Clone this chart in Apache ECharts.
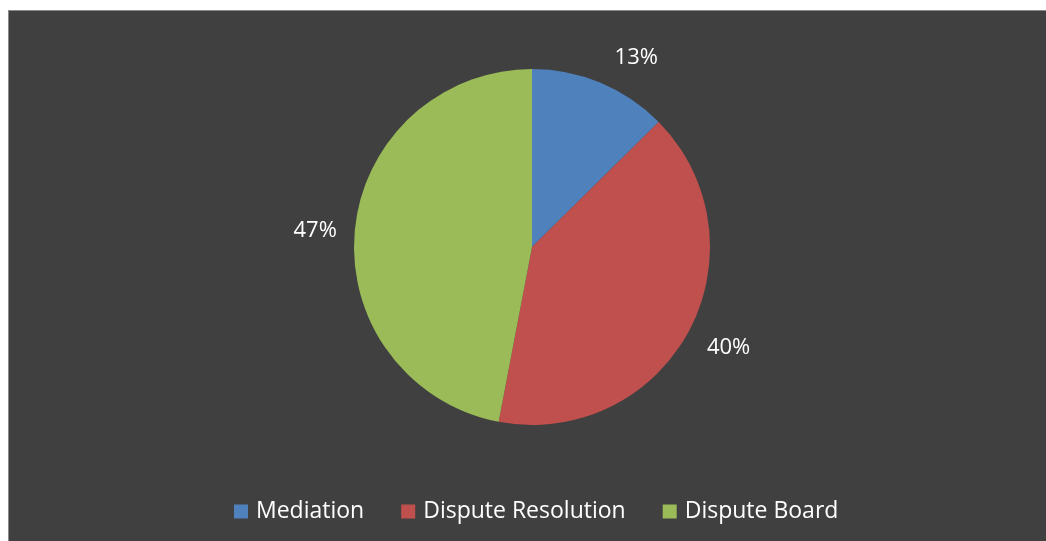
<!DOCTYPE html>
<html>
<head>
<meta charset="utf-8">
<script src="https://cdn.jsdelivr.net/npm/echarts@6/dist/echarts.min.js"></script>
<style>
html,body{margin:0;padding:0;background:#fff;width:1046px;height:541px;overflow:hidden;}
#frame{position:absolute;left:8px;top:10px;width:1037px;height:530px;border-left:1px solid #8a8a8a;border-top:1px solid #8a8a8a;background:#404040;}
#chart{position:absolute;left:0;top:0;width:1037px;height:530px;}
</style>
</head>
<body>
<div id="frame"><div id="chart"></div></div>
<script>
const categories = ['Mediation', 'Dispute Resolution', 'Dispute Board'];
const values = [12.6, 40.4, 47.0];
const colors = ['#4F81BD', '#C0504D', '#9BBB59'];
const labelNudge = [[5, -8], [0, 8], [2, 2]];

const chart = echarts.init(document.getElementById('chart'), null, {renderer: 'canvas'});
chart.setOption({
  backgroundColor: '#404040',
  animation: false,
  color: colors,
  legend: {
    data: categories,
    bottom: 13,
    left: 220,
    icon: 'rect',
    itemWidth: 14,
    itemHeight: 14,
    itemGap: 37,
    textStyle: {color: '#ffffff', fontSize: 23, fontFamily: 'Open Sans', padding: [0, 0, 0, 3]}
  },
  series: [{
    type: 'pie',
    center: [523, 236],
    radius: 178,
    startAngle: 90,
    clockwise: true,
    itemStyle: {borderWidth: 0},
    label: {
      show: true,
      position: 'outside',
      formatter: p => Math.round(p.percent) + '%',
      color: '#ffffff',
      fontSize: 22,
      fontFamily: 'Open Sans',
      distanceToLabelLine: 2
    },
    labelLine: {show: false, length: 18, length2: 0},
    labelLayout: p => ({dx: labelNudge[p.dataIndex][0], dy: labelNudge[p.dataIndex][1]}),
    data: categories.map((c, i) => ({name: c, value: values[i]}))
  }]
});
</script>
</body>
</html>
